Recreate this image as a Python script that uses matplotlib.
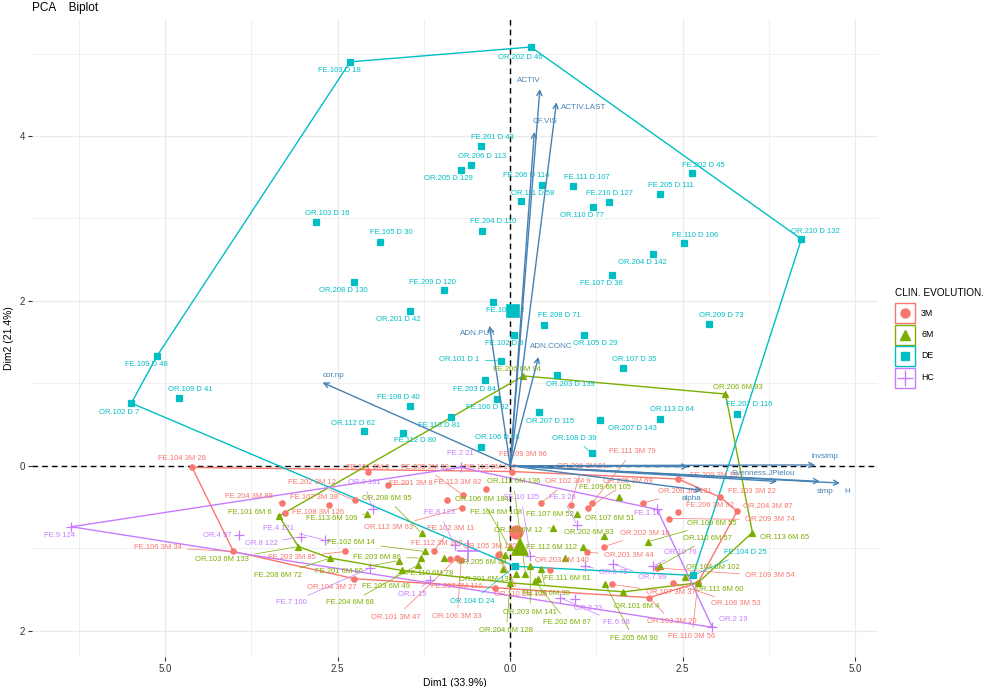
import matplotlib
matplotlib.use("Agg")
import matplotlib.pyplot as plt
from matplotlib.lines import Line2D
from matplotlib.patches import Rectangle
from matplotlib.ticker import MultipleLocator, FuncFormatter

plt.rcParams["font.family"] = ["Liberation Sans", "DejaVu Sans"]

# ----------------------------------------------------
# Individuals (PCA coordinates) per clinical group
# ----------------------------------------------------
de_names = ["OR.202 D 46", "FE.103 D 18", "OR.210 D 132", "FE.109 D 48", "OR.102 D 7",
            "FE.201 D 43", "OR.206 D 113", "OR.205 D 129", "OR.103 D 16", "FE.105 D 30",
            "FE.204 D 110", "OR.208 D 130", "FE.209 D 120", "OR.201 D 42", "FE.101 D 2",
            "FE.102 D 8", "OR.101 D 1", "FE.203 D 84", "FE.106 D 32", "OR.106 D 18",
            "FE.208 D 71", "OR.105 D 29", "OR.203 D 139", "OR.207 D 115", "OR.108 D 39",
            "OR.207 D 143", "OR.107 D 35", "OR.113 D 64", "FE.207 D 116", "OR.209 D 73",
            "FE.107 D 36", "OR.204 D 142", "FE.110 D 106", "FE.202 D 45", "FE.205 D 111",
            "FE.111 D 107", "FE.210 D 127", "OR.110 D 77", "FE.206 D 114", "OR.111 D 58",
            "FE.108 D 40", "OR.109 D 41", "OR.112 D 62", "FE.112 D 80", "FE.113 D 81",
            "FE.104 D 25", "OR.104 D 24"]
de_x = [0.30, -2.32, 4.22, -5.12, -5.49, -0.42, -0.57, -0.72, -2.81, -1.88,
        -0.41, -2.26, -0.96, -1.45, -0.25, 0.06, -0.14, -0.36, -0.19, -0.42,
        0.49, 1.07, 0.68, 0.42, 1.19, 1.30, 1.64, 2.17, 3.29, 2.88,
        1.48, 2.07, 2.52, 2.64, 2.17, 0.91, 1.43, 1.20, 0.46, 0.16,
        -1.45, -4.80, -2.12, -1.55, -0.86, 2.65, 0.07]
de_y = [5.08, 4.90, 2.75, 1.33, 0.76, 3.88, 3.65, 3.59, 2.96, 2.72,
        2.85, 2.23, 2.13, 1.88, 1.99, 1.59, 1.27, 1.04, 0.81, 0.23,
        1.71, 1.59, 1.10, 0.65, 0.15, 0.55, 1.19, 0.57, 0.63, 1.72,
        2.32, 2.57, 2.70, 3.55, 3.30, 3.39, 3.20, 3.14, 3.41, 3.21,
        0.73, 0.82, 0.42, 0.40, 0.59, -1.33, -1.22]

m3_names = ["FE.104 3M 28", "FE.106 3M 34", "FE.204 3M 88", "FE.108 3M 126", "FE.107 3M 38",
            "FE.202 3M 12", "FE.201 3M 8", "FE.101 3M 3", "FE.113 3M 82", "FE.205 3M 30",
            "OR.112 3M 63", "OR.113 3M 137", "FE.109 3M 96", "FE.102 3M 11", "FE.112 3M 108",
            "OR.101 3M 47", "OR.106 3M 33", "FE.203 3M 85", "OR.104 3M 27", "FE.207 3M 116",
            "OR.105 3M 100", "OR.102 3M 9", "OR.205 3M 69", "FE.111 3M 79", "OR.206 3M 91",
            "OR.208 3M 131", "FE.206 3M 92", "OR.209 3M 74", "FE.209 3M 15", "FE.103 3M 22",
            "OR.204 3M 87", "OR.202 3M 16", "OR.201 3M 44", "OR.107 3M 37", "OR.103 3M 20",
            "OR.109 3M 54", "OR.108 3M 53", "FE.110 3M 56", "OR.203 3M 140", "OR.110 3M 135"]
m3_x = [-4.61, -4.01, -3.30, -3.26, -2.62, -2.25, -1.77, -2.06, -0.91, -0.68,
        -0.70, -0.35, 0.03, -1.10, -0.87, -0.77, -0.71, -2.39, -2.26, -0.22,
        -0.16, 0.45, 1.13, 1.19, 0.88, 1.93, 2.43, 2.30, 2.43, 3.04,
        3.29, 1.36, 1.12, 1.48, 2.01, 2.13, 2.36, 2.72, 0.58, -0.17]
m3_y = [-0.02, -1.04, -0.45, -0.57, -0.48, -0.42, -0.23, -0.07, -0.42, -0.36,
        -0.51, -0.28, -0.07, -1.03, -1.13, -1.12, -1.14, -1.04, -1.37, -1.48,
        -1.07, -0.45, -0.51, -0.45, -0.47, -0.45, -0.56, -0.64, -0.16, -0.38,
        -0.55, -0.98, -1.05, -1.44, -1.60, -1.24, -1.42, -1.42, -1.27, -1.08]

m6_names = ["FE.101 6M 6", "OR.103 6M 133", "FE.208 6M 72", "FE.113 6M 109", "FE.201 6M 66",
            "FE.103 6M 49", "FE.204 6M 68", "OR.208 6M 95", "FE.102 6M 14", "FE.203 6M 86",
            "FE.110 6M 78", "OR.205 6M 84", "FE.104 6M 108", "OR.106 6M 184", "OR.201 6M 138",
            "OR.112 6M 136", "OR.111 6M 12", "FE.107 6M 52", "OR.202 6M 83", "FE.112 6M 112",
            "OR.107 6M 51", "FE.111 6M 61", "FE.106 6M 30", "OR.203 6M 141", "FE.202 6M 67",
            "OR.204 6M 128", "OR.101 6M 4", "FE.205 6M 90", "FE.109 6M 105", "OR.109 6M 55",
            "OR.110 6M 57", "OR.104 6M 102", "OR.111 6M 60", "OR.113 6M 65", "OR.206 6M 93",
            "FE.206 6M 94"]
m6_x = [-3.35, -3.07, -2.61, -2.07, -1.61, -1.57, -1.33, -1.28, -1.23, -1.29,
        -0.96, -0.07, -0.10, -0.01, 0.09, 0.22, 0.62, 0.97, 1.06, 0.80,
        1.36, 0.41, 0.45, 0.29, 0.36, 0.00, 1.64, 1.38, 1.57, 2.00,
        2.17, 2.54, 2.72, 3.51, 3.12, 0.19]
m6_y = [-0.61, -0.98, -1.12, -0.58, -1.15, -1.27, -1.20, -0.82, -1.04, -1.12,
        -1.12, -1.08, -1.25, -0.99, -1.31, -1.31, -0.75, -0.59, -0.99, -1.12,
        -0.85, -1.37, -1.25, -1.22, -1.40, -1.42, -1.53, -1.44, -0.38, -0.92,
        -1.21, -1.35, -1.42, -0.81, 0.87, 1.09]

hc_names = ["FE.9 124", "OR.4 97", "OR.8 122", "FE.4 121", "OR.9 101", "FE.8 123",
            "FE.2 21", "FE.7 100", "OR.1 15", "FE.10 125", "FE.3 26", "OR.6 75",
            "OR.7 99", "OR.10 76", "FE.1 17", "OR.2 19", "OR.3 23", "FE.6 98"]
hc_x = [-6.36, -3.93, -3.03, -2.68, -1.99, -0.80, -0.72, -2.03, -1.16, 0.29,
        0.97, 1.09, 1.49, 2.07, 2.13, 2.93, 0.94, 0.72]
hc_y = [-0.74, -0.84, -0.86, -0.90, -0.53, -0.96, -0.02, -1.24, -1.38, -1.09,
        -0.72, -1.22, -1.19, -1.22, -0.53, -1.96, -1.62, -1.60]

# group centres (big markers)
group_labels = ["3M", "6M", "DE", "HC"]
mean_x = [0.09, 0.14, 0.04, -0.61]
mean_y = [-0.80, -0.98, 1.88, -1.04]

# ----------------------------------------------------
# Variables (arrows)
# ----------------------------------------------------
var_names = ["ACTIV", "ACTIV.LAST", "CF.VIS", "ADN.PUR", "ADN.CONC", "cor.np",
             "invsimp", "Evenness.JPielou", "simp", "H", "alpha", ""]
var_x = [0.43, 0.67, 0.35, -0.30, 0.41, -2.72, 4.42, 3.87, 4.49, 4.78, 2.78, 2.58]
var_y = [4.57, 4.41, 4.05, 1.70, 1.32, 1.01, 0.01, -0.19, -0.19, -0.21, -0.30, -0.01]

# ----------------------------------------------------
# Layout: label offsets in pixels (as placed by repel in the original)
# ----------------------------------------------------
label_offset = {
    "OR.202 D 46": (-11, -10), "FE.103 D 18": (-11, -9), "OR.210 D 132": (14, 8),
    "FE.109 D 48": (-11, -8), "OR.102 D 7": (-12, -9), "FE.201 D 43": (11, 8),
    "OR.206 D 113": (11, 8), "OR.205 D 129": (-12, -9), "OR.103 D 16": (11, 8),
    "FE.105 D 30": (11, 9), "FE.204 D 110": (11, 9), "OR.208 D 130": (-11, -9),
    "FE.209 D 120": (-12, 8), "OR.201 D 42": (-12, -9), "FE.101 D 2": (12, -9),
    "FE.102 D 8": (-10, -9), "OR.101 D 1": (-41, 2), "FE.203 D 84": (-11, -9),
    "FE.106 D 32": (-10, -9), "OR.106 D 18": (16, 9), "FE.208 D 71": (15, 9),
    "OR.105 D 29": (11, -9), "OR.203 D 139": (13, -9), "OR.207 D 115": (11, -9),
    "OR.108 D 39": (-18, 15), "OR.207 D 143": (32, -8), "OR.107 D 35": (11, 8),
    "OR.113 D 64": (12, 9), "FE.207 D 116": (12, 9), "OR.209 D 73": (12, 8),
    "FE.107 D 36": (-11, -9), "OR.204 D 142": (-11, -9), "FE.110 D 106": (11, 8),
    "FE.202 D 45": (11, 8), "FE.205 D 111": (11, 8), "FE.111 D 107": (14, 9),
    "FE.210 D 127": (1, 8), "OR.110 D 77": (-11, -9), "FE.206 D 114": (-16, 9),
    "OR.111 D 58": (11, 8), "FE.108 D 40": (-12, 8), "OR.109 D 41": (11, 9),
    "OR.112 D 62": (-11, 8), "FE.112 D 80": (12, -8), "FE.113 D 81": (-12, -8),
    "FE.104 D 25": (52, 23), "OR.104 D 24": (-43, -35),
    "FE.104 3M 28": (-10, 9), "FE.106 3M 34": (-76, 4), "FE.204 3M 88": (-34, 6),
    "FE.108 3M 126": (33, 0), "FE.107 3M 38": (-15, 8), "FE.202 3M 12": (-43, 18),
    "FE.201 3M 8": (23, 1), "FE.101 3M 3": (0, 4), "FE.113 3M 82": (10, 18),
    "FE.205 3M 30": (-38, 28), "OR.112 3M 63": (-73, -20), "OR.113 3M 137": (4, 21),
    "FE.109 3M 96": (11, 17), "FE.102 3M 11": (16, 22), "FE.112 3M 108": (-13, 15),
    "OR.101 3M 47": (-61, -59), "OR.106 3M 33": (-4, -57), "FE.203 3M 85": (-53, -6),
    "OR.104 3M 27": (-22, -9), "FE.207 3M 116": (-38, 1), "OR.105 3M 100": (-9, 7),
    "OR.102 3M 9": (26, 21), "OR.205 3M 69": (40, 26), "FE.111 3M 79": (40, 51),
    "OR.206 3M 91": (11, 38), "OR.208 3M 131": (42, 11), "FE.206 3M 92": (32, 6),
    "OR.209 3M 74": (101, -1), "FE.209 3M 15": (36, 3), "FE.103 3M 22": (32, 6),
    "OR.204 3M 87": (31, 5), "OR.202 3M 16": (41, 13), "OR.201 3M 44": (41, -3),
    "OR.107 3M 37": (58, -8), "OR.103 3M 20": (23, -24), "OR.109 3M 54": (113, -8),
    "OR.108 3M 53": (63, -21), "FE.110 3M 56": (-6, -54), "OR.203 3M 140": (12, 10),
    "OR.110 3M 135": (22, -40),
    "FE.101 6M 6": (-29, 4), "OR.103 6M 133": (-76, -13), "FE.208 6M 72": (-52, -17),
    "FE.113 6M 109": (-36, -5), "FE.201 6M 66": (-60, -11), "FE.103 6M 49": (-16, -16),
    "FE.204 6M 68": (-68, -38), "OR.208 6M 95": (-35, 35), "FE.102 6M 14": (-74, 9),
    "FE.203 6M 86": (-44, 1), "FE.110 6M 78": (-14, -15), "OR.205 6M 84": (-24, -8),
    "FE.104 6M 108": (-7, 56), "OR.106 6M 184": (-28, 48), "OR.201 6M 138": (-30, -6),
    "OR.112 6M 136": (-12, 92), "OR.111 6M 12": (-35, -3), "FE.107 6M 52": (-27, 0),
    "OR.202 6M 83": (5, 15), "FE.112 6M 112": (-14, 11), "OR.107 6M 51": (6, 17),
    "FE.111 6M 61": (29, 0), "FE.106 6M 30": (5, -25), "OR.203 6M 141": (0, -46),
    "FE.202 6M 67": (32, -41), "OR.204 6M 128": (-4, -48), "OR.101 6M 4": (13, -15),
    "FE.205 6M 90": (28, -54), "FE.109 6M 105": (-14, 10), "OR.109 6M 55": (64, 18),
    "OR.110 6M 57": (48, 27), "OR.104 6M 102": (27, 10), "OR.111 6M 60": (21, -7),
    "OR.113 6M 65": (32, -5), "OR.206 6M 93": (12, 7), "FE.206 6M 94": (-6, 6),
    "FE.9 124": (-12, -9), "OR.4 97": (-22, 0), "OR.8 122": (-40, -7),
    "FE.4 121": (-47, 11), "OR.9 101": (-9, 27), "FE.8 123": (-16, 32),
    "FE.2 21": (0, 14), "FE.7 100": (-79, -35), "OR.1 15": (-18, -15),
    "FE.10 125": (-9, 58), "FE.3 26": (-15, 28), "OR.6 75": (28, -6),
    "OR.7 99": (39, -14), "OR.10 76": (27, 14), "FE.1 17": (-10, -4),
    "OR.2 19": (21, 8), "OR.3 23": (13, -9), "FE.6 98": (56, -25),
}
var_offset = {"ACTIV": (-11, 9), "ACTIV.LAST": (27, -5), "CF.VIS": (11, 10),
              "ADN.PUR": (-12, -8), "ADN.CONC": (13, 10), "cor.np": (11, 7),
              "invsimp": (10, 8), "Evenness.JPielou": (-14, 8), "simp": (5, -10),
              "H": (7, -8), "alpha": (-11, -8)}

colors = {"3M": "#F8766D", "6M": "#7CAE00", "DE": "#00BFC4", "HC": "#C77CFF"}
markers = {"3M": ("o", 3.8), "6M": ("^", 4.6), "DE": ("s", 3.8), "HC": ("+", 6.5)}
groups = [("3M", m3_names, m3_x, m3_y), ("6M", m6_names, m6_x, m6_y),
          ("DE", de_names, de_x, de_y), ("HC", hc_names, hc_x, hc_y)]


def convex_hull(xs, ys):
    pts = sorted(set(zip(xs, ys)))

    def cross(o, a, b):
        return (a[0] - o[0]) * (b[1] - o[1]) - (a[1] - o[1]) * (b[0] - o[0])

    lower, upper = [], []
    for p in pts:
        while len(lower) >= 2 and cross(lower[-2], lower[-1], p) <= 0:
            lower.pop()
        lower.append(p)
    for p in reversed(pts):
        while len(upper) >= 2 and cross(upper[-2], upper[-1], p) <= 0:
            upper.pop()
        upper.append(p)
    return lower[:-1] + upper[:-1]


# ----------------------------------------------------
# Figure
# ----------------------------------------------------
W, H = 988, 687
fig = plt.figure(figsize=(W / 100, H / 100), dpi=100)
ax = fig.add_axes([32 / W, 1 - 657 / H, 846 / W, 638 / H])
ax.set_xlim(-6.93, 5.33)
ax.set_ylim(-2.32, 5.42)

ax.axhline(0, color="black", lw=1.0, ls=(0, (4, 3)), zorder=1.5)
ax.axvline(0, color="black", lw=1.0, ls=(0, (4, 3)), zorder=1.5)

for g, names, xs, ys in groups:
    c = colors[g]
    h = convex_hull(xs, ys)
    ax.fill([p[0] for p in h], [p[1] for p in h], facecolor="none",
            edgecolor=c, lw=1.0, zorder=2)
    m, ms = markers[g]
    ax.plot(xs, ys, ls="none", marker=m, ms=ms, color=c, mew=0.9, zorder=3)
    for n, x, y in zip(names, xs, ys):
        dx, dy = label_offset.get(n, (0, 9))
        far = (dx * dx + dy * dy) ** 0.5 > 22
        ax.annotate(n, (x, y), xytext=(dx, dy), textcoords="offset pixels",
                    ha="center", va="center", fontsize=5.5, color=c, zorder=4,
                    arrowprops=dict(arrowstyle="-", color=c, lw=0.5,
                                    shrinkA=2, shrinkB=2) if far else None)

for g, mx, my in zip(group_labels, mean_x, mean_y):
    m, ms = markers[g]
    ax.plot(mx, my, ls="none", marker=m, ms=ms * 2.4, color=colors[g],
            mew=1.2, zorder=3.5)

var_col = "#4682B4"
for n, vx, vy in zip(var_names, var_x, var_y):
    ax.annotate("", xy=(vx, vy), xytext=(0, 0),
                arrowprops=dict(arrowstyle="->", color=var_col, lw=1.0,
                                mutation_scale=9, shrinkA=0, shrinkB=0), zorder=5)
    if n:
        dx, dy = var_offset.get(n, (0, 9))
        ax.annotate(n, (vx, vy), xytext=(dx, dy), textcoords="offset pixels",
                    ha="center", va="center", fontsize=5.8, color=var_col, zorder=6)

# axes styling (theme_minimal look)
ax.xaxis.set_major_locator(MultipleLocator(2.5))
ax.xaxis.set_minor_locator(MultipleLocator(1.25))
ax.yaxis.set_major_locator(MultipleLocator(2))
ax.yaxis.set_minor_locator(MultipleLocator(1))
ax.xaxis.set_major_formatter(FuncFormatter(lambda v, p: f"{abs(v):.1f}"))
ax.yaxis.set_major_formatter(FuncFormatter(lambda v, p: f"{abs(v):.0f}"))
ax.grid(which="major", color="#EBEBEB", lw=0.9, zorder=0)
ax.grid(which="minor", color="#F0F0F0", lw=0.7, zorder=0)
ax.set_axisbelow(True)
for s in ax.spines.values():
    s.set_visible(False)
ax.tick_params(which="major", length=3, width=0.8, color="#333333",
               labelsize=7, labelcolor="#333333", pad=2)
ax.tick_params(which="minor", length=0)

ax.set_xlabel("Dim1 (33.9%)", fontsize=7.5, labelpad=3)
ax.set_ylabel("Dim2 (21.4%)", fontsize=7.5, labelpad=4)
ax.set_title("PCA    Biplot", loc="left", fontsize=8.5, pad=6)

# legend drawn by hand: outlined key boxes with the group marker inside
fig.text(895 / W, 1 - 293 / H, "CLIN. EVOLUTION.", fontsize=7.2,
         ha="left", va="center")
key_top, key_size, key_step = 303, 20, 21.5
for i, g in enumerate(group_labels):
    top = key_top + i * key_step
    fig.add_artist(Rectangle((895 / W, 1 - (top + key_size) / H), key_size / W,
                             key_size / H, transform=fig.transFigure,
                             facecolor="white", edgecolor=colors[g], lw=1.0))
    m, ms = markers[g]
    fig.add_artist(Line2D([(895 + key_size / 2) / W], [1 - (top + key_size / 2) / H],
                          transform=fig.transFigure, ls="none", marker=m,
                          ms=ms * 1.7, color=colors[g], mew=1.0))
    fig.text(921 / W, 1 - (top + key_size / 2) / H, g, fontsize=6.3,
             ha="left", va="center")

fig.savefig("out.png", dpi=100)
